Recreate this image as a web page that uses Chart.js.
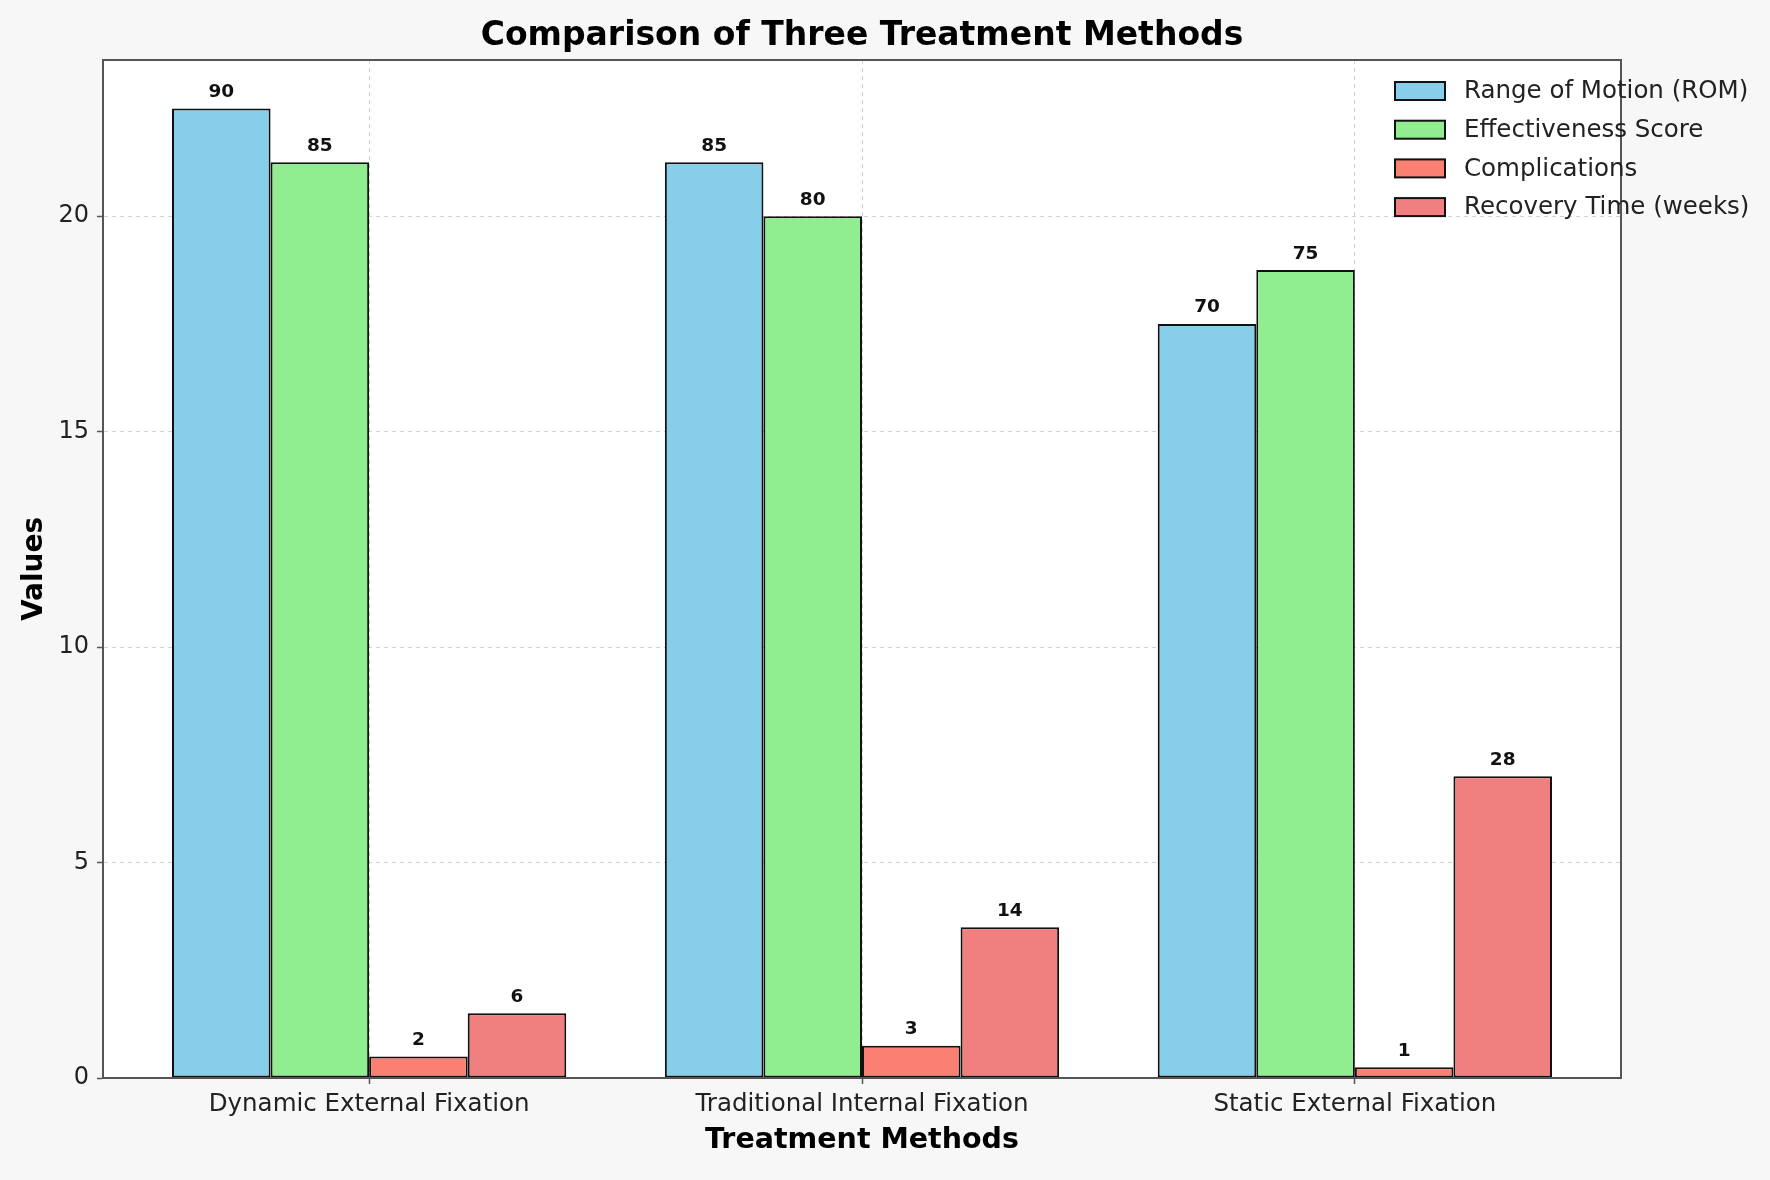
<!DOCTYPE html>
<html>
<head>
<meta charset="utf-8">
<title>Comparison of Three Treatment Methods</title>
<script src="https://cdn.jsdelivr.net/npm/chart.js@4.4.1/dist/chart.umd.min.js"></script>
<style>
    html, body { margin: 0; padding: 0; background: #f7f7f7; }
    #wrap { width: 1770px; height: 1180px; }
</style>
</head>
<body>
<div id="wrap"><canvas id="chart" width="1770" height="1180"></canvas></div>
<script>
const chartTitle = 'Comparison of Three Treatment Methods';
const methods = [
    'Dynamic External Fixation',
    'Traditional Internal Fixation',
    'Static External Fixation',
];
const romValues = [90, 85, 70];
const effectivenessValues = [85, 80, 75];
const complicationValues = [2, 3, 1];
const recoveryWeeks = [6, 14, 28];

const seriesLabels = [
    'Range of Motion (ROM)',
    'Effectiveness Score',
    'Complications',
    'Recovery Time (weeks)',
];
const seriesColors = ['#87CEEB', '#90EE90', '#FA8072', '#F08080'];

// bars are drawn at a quarter of the value, the label keeps the raw number
const heightDivisor = 4;
const yTicks = [0, 5, 10, 15, 20];

const fontFamily = '"DejaVu Sans", sans-serif';

function toPoints(values) {
    return values.map((v, i) => ({ x: i, y: v / heightDivisor, raw: v }));
}

const allSeries = [romValues, effectivenessValues, complicationValues, recoveryWeeks];

const datasets = allSeries.map((values, idx) => ({
    label: seriesLabels[idx],
    data: toPoints(values),
    backgroundColor: seriesColors[idx],
    borderColor: '#111111',
    borderWidth: 2,
    borderSkipped: false,
    categoryPercentage: 0.8,
    barPercentage: 1.0,
}));

// white plot background + title centred over the axes
const plotBackground = {
    id: 'plotBackground',
    beforeDraw(chart) {
        const { ctx, chartArea } = chart;
        ctx.save();
        ctx.fillStyle = '#ffffff';
        ctx.fillRect(chartArea.left, chartArea.top, chartArea.right - chartArea.left, chartArea.bottom - chartArea.top);
        ctx.fillStyle = '#000000';
        ctx.font = 'bold 33px ' + fontFamily;
        ctx.textAlign = 'center';
        ctx.textBaseline = 'middle';
        ctx.fillText(chartTitle, (chartArea.left + chartArea.right) / 2, 36);
        ctx.restore();
    },
};

// frame + value labels above bars
const frameAndLabels = {
    id: 'frameAndLabels',
    afterDatasetsDraw(chart) {
        const { ctx, chartArea } = chart;
        ctx.save();
        ctx.strokeStyle = '#555555';
        ctx.lineWidth = 2;
        ctx.strokeRect(chartArea.left, chartArea.top, chartArea.right - chartArea.left, chartArea.bottom - chartArea.top);

        ctx.fillStyle = '#111111';
        ctx.font = 'bold 18.5px ' + fontFamily;
        ctx.textAlign = 'center';
        ctx.textBaseline = 'bottom';
        chart.data.datasets.forEach((ds, di) => {
            const meta = chart.getDatasetMeta(di);
            meta.data.forEach((bar, i) => {
                ctx.fillText(String(ds.data[i].raw), bar.x, bar.y - 7);
            });
        });
        ctx.restore();
    },
};

// legend inside the axes, upper right
const insideLegend = {
    id: 'insideLegend',
    afterDraw(chart) {
        const { ctx, chartArea } = chart;
        const x0 = chartArea.right - 226;
        const y0 = chartArea.top + 31;
        const rowGap = 38.7;
        ctx.save();
        ctx.font = '24.5px ' + fontFamily;
        ctx.textBaseline = 'middle';
        ctx.textAlign = 'left';
        chart.data.datasets.forEach((ds, i) => {
            const y = y0 + i * rowGap;
            ctx.fillStyle = ds.backgroundColor;
            ctx.fillRect(x0, y - 9, 50, 18);
            ctx.strokeStyle = '#111111';
            ctx.lineWidth = 2;
            ctx.strokeRect(x0, y - 9, 50, 18);
            ctx.fillStyle = '#222222';
            ctx.fillText(ds.label, x0 + 69, y + 1);
        });
        ctx.restore();
    },
};

const gridStyle = {
    color: 'rgba(190,190,190,0.7)',
    lineWidth: 1,
    tickLength: 6,
    tickColor: '#555555',
    tickWidth: 1.5,
    offset: false,
};

new Chart(document.getElementById('chart'), {
    type: 'bar',
    data: { datasets },
    options: {
        responsive: false,
        animation: false,
        devicePixelRatio: 1,
        layout: { padding: { left: 0, right: 149, top: 60, bottom: 0 } },
        plugins: {
            legend: { display: false },
            tooltip: { enabled: false },
            title: { display: false },
        },
        scales: {
            x: {
                type: 'linear',
                min: -0.54,
                max: 2.54,
                offset: false,
                afterBuildTicks(scale) {
                    scale.ticks = methods.map((m, i) => ({ value: i }));
                },
                afterFit(scale) {
                    scale.height = 102;
                },
                ticks: {
                    callback: (value) => methods[value] ?? '',
                    color: '#222222',
                    font: { family: fontFamily, size: 24.5 },
                    padding: 6,
                    maxRotation: 0,
                    autoSkip: false,
                },
                grid: gridStyle,
                border: { display: true, color: '#555555', width: 2, dash: [4, 4] },
                title: {
                    display: true,
                    text: 'Treatment Methods',
                    color: '#000000',
                    font: { family: fontFamily, size: 28.5, weight: 'bold' },
                    padding: { top: 0, bottom: 22 },
                },
            },
            y: {
                min: 0,
                max: 23.625,
                afterBuildTicks(scale) {
                    scale.ticks = yTicks.map((v) => ({ value: v }));
                },
                afterFit(scale) {
                    scale.width = 103;
                },
                ticks: {
                    color: '#222222',
                    font: { family: fontFamily, size: 24 },
                    padding: 8,
                },
                grid: gridStyle,
                border: { display: true, color: '#555555', width: 2, dash: [4, 4] },
                title: {
                    display: true,
                    text: 'Values',
                    color: '#000000',
                    font: { family: fontFamily, size: 28, weight: 'bold' },
                    padding: { top: 18, bottom: 0 },
                },
            },
        },
    },
    plugins: [plotBackground, frameAndLabels, insideLegend],
});
</script>
</body>
</html>
